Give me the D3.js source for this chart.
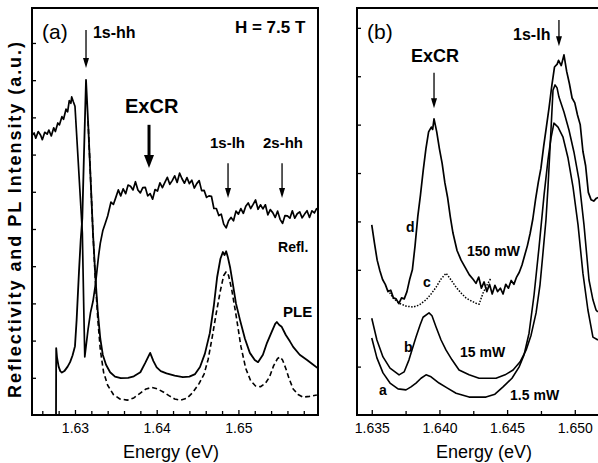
<!DOCTYPE html>
<html>
<head>
<meta charset="utf-8">
<style>
  body { margin: 0; background: #fff; }
  text { font-family: "Liberation Sans", Arial, sans-serif; fill: #000; }
</style>
<script src="https://cdn.jsdelivr.net/npm/d3@7"></script>
</head>
<body>
<script>
// ---- panel (a) data : [energy eV, intensity a.u.] ----
var reflA = [
  [1.6247,7.50],[1.6250,7.58],[1.6252,7.44],[1.6255,7.62],[1.6258,7.52],[1.6260,7.40],[1.6263,7.60],
  [1.6266,7.55],[1.6268,7.66],[1.6271,7.50],[1.6274,7.72],[1.6276,7.62],[1.6279,7.85],[1.6281,7.80],
  [1.6284,8.02],[1.6286,7.95],[1.6289,8.22],[1.6291,8.15],[1.6293,8.45],[1.6295,8.38],[1.6296,8.55],
  [1.6298,8.42],[1.6300,8.30],
  [1.6304,6.80],[1.6309,4.90],[1.6311,2.60],[1.6312,1.56],[1.6316,2.30],[1.6319,2.75],[1.6322,3.05],
  [1.6325,3.50],[1.6327,3.90],[1.6329,4.30],[1.6331,4.62],[1.6334,4.95],[1.6337,5.15],[1.6340,5.35],
  [1.6344,5.72],[1.6347,5.66],[1.6350,5.85],[1.6353,6.05],[1.6356,5.89],[1.6359,6.08],[1.6362,5.95],
  [1.6365,6.18],[1.6368,6.15],[1.6371,6.05],[1.6374,6.27],[1.6377,6.05],[1.6380,5.97],[1.6383,6.11],
  [1.6386,6.12],[1.6389,5.89],[1.6392,5.95],[1.6395,5.80],[1.6398,6.06],[1.6401,6.02],[1.6404,6.24],
  [1.6407,6.11],[1.6410,6.25],[1.6413,6.39],[1.6416,6.20],[1.6419,6.30],[1.6422,6.43],[1.6425,6.25],
  [1.6428,6.50],[1.6431,6.35],[1.6434,6.23],[1.6437,6.38],[1.6440,6.22],[1.6443,6.31],[1.6446,6.10],
  [1.6449,6.22],[1.6452,6.30],[1.6455,6.03],[1.6458,6.04],[1.6461,5.85],[1.6464,5.89],[1.6467,5.88],
  [1.6470,5.55],[1.6473,5.55],[1.6476,5.36],[1.6479,5.40],[1.6482,5.13],[1.6485,5.03],[1.6488,5.22],
  [1.6491,5.31],[1.6494,5.22],[1.6497,5.48],[1.6500,5.40],[1.6503,5.55],[1.6506,5.42],[1.6509,5.61],
  [1.6512,5.70],[1.6515,5.55],[1.6518,5.66],[1.6521,5.78],[1.6524,5.53],[1.6527,5.65],[1.6530,5.54],
  [1.6533,5.65],[1.6536,5.38],[1.6539,5.52],[1.6542,5.44],[1.6545,5.31],[1.6548,5.48],[1.6551,5.26],
  [1.6554,5.15],[1.6557,5.36],[1.6560,5.35],[1.6563,5.29],[1.6566,5.49],[1.6569,5.29],[1.6572,5.41],
  [1.6575,5.46],[1.6578,5.30],[1.6581,5.40],[1.6584,5.49],[1.6587,5.31],[1.6590,5.49],[1.6593,5.43],
  [1.6596,5.56]
];
var pleA = [
  [1.62768,0],[1.62770,1.80],[1.6278,1.55],[1.6280,1.30],[1.6282,1.18],[1.6284,1.14],[1.6287,1.18],
  [1.6291,1.30],[1.6294,1.42],[1.6297,1.60],[1.6300,1.85],[1.6302,2.55],[1.6305,3.90],[1.6307,4.70],
  [1.6309,5.30],[1.6311,7.00],[1.63135,9.01],[1.6316,7.90],[1.6319,6.40],[1.6322,4.90],[1.6325,3.70],
  [1.6328,2.75],[1.6331,2.05],[1.6334,1.62],[1.6338,1.35],[1.6343,1.15],[1.6349,1.03],[1.6356,0.99],
  [1.6365,1.00],[1.6372,1.04],[1.6380,1.15],[1.6386,1.40],[1.6392,1.67],[1.6396,1.45],[1.6400,1.28],
  [1.6405,1.18],[1.6412,1.12],[1.6422,1.06],[1.6432,1.02],[1.6440,1.03],[1.6447,1.10],[1.6453,1.29],
  [1.6459,1.65],[1.6465,2.20],[1.6470,2.95],[1.6474,3.71],[1.6478,4.20],[1.6481,4.38],[1.6483,4.30],
  [1.6485,4.40],[1.6487,4.25],[1.6490,3.95],[1.6493,3.55],[1.6497,3.00],[1.6502,2.55],[1.6508,2.05],
  [1.6514,1.67],[1.6520,1.48],[1.6524,1.42],[1.6530,1.62],[1.6535,1.94],[1.6541,2.25],[1.6545,2.45],
  [1.6547,2.50],[1.6550,2.42],[1.6553,2.37],[1.6558,2.15],[1.6563,1.98],[1.6567,1.83],[1.6575,1.62],
  [1.6584,1.48],[1.6590,1.38],[1.6597,1.26]
];
var pleFitA = [
  [1.6316,7.90],[1.6319,6.40],[1.6322,4.90],[1.6325,3.60],[1.6328,2.55],[1.6331,1.75],[1.6335,1.15],
  [1.6340,0.80],[1.6347,0.55],[1.6355,0.43],[1.6364,0.40],[1.6372,0.46],[1.6380,0.59],[1.6387,0.70],
  [1.6394,0.74],[1.6401,0.70],[1.6408,0.62],[1.6415,0.52],[1.6422,0.43],[1.6429,0.40],[1.6437,0.45],
  [1.6444,0.60],[1.6452,0.85],[1.6458,1.10],[1.6463,1.50],[1.6468,2.10],[1.6473,2.75],[1.6478,3.35],
  [1.6482,3.75],[1.6485,3.85],[1.6488,3.75],[1.6492,3.35],[1.6497,2.70],[1.6503,1.85],[1.6509,1.25],
  [1.6515,0.92],[1.6521,0.78],[1.6527,0.76],[1.6533,0.85],[1.6538,1.02],[1.6543,1.32],[1.6548,1.52],
  [1.6551,1.56],[1.6554,1.48],[1.6558,1.25],[1.6562,0.98],[1.6567,0.70],[1.6573,0.55],[1.6579,0.48],
  [1.6587,0.50],[1.6596,0.54]
];

// ---- panel (b) data : PL spectra at several powers ----
var curveD = [
  [1.6350,3.93],[1.6352,3.55],[1.6354,3.20],[1.6356,2.98],[1.6358,2.80],[1.6360,2.70],[1.6362,2.55],
  [1.6364,2.58],[1.6366,2.42],[1.6368,2.40],[1.6370,2.30],[1.6372,2.42],[1.6374,2.40],[1.6376,2.55],
  [1.6378,2.80],[1.6380,3.00],[1.6382,3.50],[1.6384,4.10],[1.6386,4.55],[1.6388,5.05],[1.6390,5.50],
  [1.6392,5.85],[1.6394,5.95],[1.6395,5.90],[1.6396,6.12],[1.6398,5.85],[1.6400,5.50],[1.6402,5.20],
  [1.6404,4.80],[1.6406,4.50],[1.6408,4.10],[1.6410,3.76],[1.6413,3.40],[1.6416,3.20],[1.6419,3.05],
  [1.6422,2.90],[1.6425,2.80],[1.6427,2.72],[1.6429,2.85],[1.6431,2.62],[1.6433,2.75],[1.6435,2.55],
  [1.6437,2.70],[1.6439,2.50],[1.6441,2.68],[1.6443,2.55],[1.6445,2.62],[1.6447,2.50],[1.6449,2.70],
  [1.6451,2.62],[1.6453,2.78],[1.6455,2.70],[1.6457,2.85],[1.6459,2.95],[1.6461,3.10],[1.6463,3.30],
  [1.6465,3.50],[1.6467,3.75],[1.6469,4.05],[1.6471,4.45],[1.6473,4.80],[1.6475,5.10],[1.6477,5.55],
  [1.6479,5.95],[1.6481,6.35],[1.6483,6.80],[1.6485,7.19],[1.6487,7.25],[1.6488,7.33],[1.6490,7.22],
  [1.6492,7.44],[1.6494,7.10],[1.6496,6.85],[1.6498,6.55],[1.6500,6.45],[1.6502,6.20],[1.6504,6.00],
  [1.6506,5.45],[1.6508,5.15],[1.6510,4.60],[1.6512,4.45],[1.6514,4.42],[1.6516,4.48],[1.6518,4.50]
];
var curveC = [
  [1.6362,2.58],[1.63657,2.42],[1.63702,2.31],[1.63753,2.25],[1.63805,2.23],[1.63849,2.27],[1.63901,2.38],
  [1.63938,2.50],[1.63975,2.64],[1.64012,2.81],[1.64049,2.93],[1.64086,2.79],[1.64123,2.64],[1.6416,2.52],
  [1.64196,2.42],[1.64233,2.36],[1.6427,2.31],[1.64293,2.29],[1.64322,2.52],[1.64352,2.69],[1.64381,2.83]
];
var curveB = [
  [1.6350,2.00],[1.63538,1.55],[1.63583,1.20],[1.63635,0.97],[1.63702,0.83],[1.63739,0.89],[1.63775,1.14],
  [1.63827,1.61],[1.63857,1.86],[1.63879,2.02],[1.63923,2.11],[1.63945,2.05],[1.63975,1.82],[1.64012,1.55],
  [1.64049,1.34],[1.64093,1.14],[1.64145,0.93],[1.64219,0.83],[1.64293,0.76],[1.64418,0.76],[1.64485,0.83],
  [1.64544,0.93],[1.64596,1.10],[1.6464,1.34],[1.64677,1.65],[1.64714,2.11],[1.64743,2.69],[1.64765,3.35],
  [1.64787,4.03],[1.64802,4.71],[1.64824,5.89],[1.64839,6.71],[1.64854,6.82],[1.64869,6.76],[1.64883,6.57],
  [1.6492,6.26],[1.64957,5.89],[1.64994,5.43],[1.65031,4.86],[1.65068,3.93],[1.65105,2.79],[1.65134,2.38],
  [1.65157,2.17],[1.6517,2.13]
];
var curveA = [
  [1.6350,1.59],[1.63538,1.18],[1.63583,0.87],[1.63635,0.66],[1.63694,0.54],[1.63753,0.52],[1.6379,0.58],
  [1.63827,0.66],[1.63864,0.76],[1.63901,0.83],[1.63938,0.79],[1.63997,0.66],[1.64056,0.56],[1.64123,0.45],
  [1.64219,0.37],[1.64344,0.37],[1.6441,0.43],[1.6447,0.58],[1.64536,0.76],[1.64588,0.99],[1.64625,1.24],
  [1.64662,1.69],[1.64699,2.48],[1.64736,3.47],[1.64773,4.55],[1.64802,5.27],[1.64824,5.72],[1.64846,6.03],
  [1.64876,5.95],[1.64913,5.74],[1.6495,5.31],[1.64987,4.71],[1.65024,3.93],[1.6506,2.93],[1.65097,2.17],
  [1.65134,1.61],[1.65171,1.55]
];

// ---- ticks ----
var ticksAmajor = [1.63, 1.64, 1.65];
var ticksAminor = [1.626,1.628,1.632,1.634,1.636,1.638,1.642,1.644,1.646,1.648,1.652,1.654,1.656,1.658];
var ticksAy = [1,2,3,4,5,6,7,8,9,10];
var ticksB = [1.635, 1.640, 1.645, 1.650];
var ticksBminor = [1.6375, 1.6425, 1.6475, 1.6525];
var ticksBy = [1,2,3,4,5,6,7,8];

var w = 598, h = 463;
var svg = d3.select("body").append("svg").attr("width", w).attr("height", h);

var xa = d3.scaleLinear().domain([1.62474, 1.65974]).range([32, 318]);
var ya = d3.scaleLinear().domain([0, 10.94]).range([415, 8]);
var xb = d3.scaleLinear().domain([1.63391, 1.65334]).range([357, 620]);
var yb = d3.scaleLinear().domain([0, 8.41]).range([415, 8]);

function drawAxes(x, y, major, minor, yt, fmt) {
  var gx = svg.append("g").attr("transform", "translate(0,415)")
    .call(d3.axisBottom(x).tickValues(major).tickSizeInner(-5).tickSizeOuter(0)
      .tickPadding(8).tickFormat(fmt));
  gx.select(".domain").remove();
  gx.selectAll("text").attr("font-size", 14).attr("font-family", "Liberation Sans, Arial");
  var gm = svg.append("g").attr("transform", "translate(0,415)")
    .call(d3.axisBottom(x).tickValues(minor).tickSizeInner(-4).tickSizeOuter(0).tickFormat(""));
  gm.select(".domain").remove();
  var gy = svg.append("g").attr("transform", "translate(" + x.range()[0] + ",0)")
    .call(d3.axisLeft(y).tickValues(yt).tickSizeInner(-4).tickSizeOuter(0).tickFormat(""));
  gy.select(".domain").remove();
  svg.selectAll(".tick line").attr("stroke-width", 1.3);
}
drawAxes(xa, ya, ticksAmajor, ticksAminor, ticksAy, d3.format(".2f"));
drawAxes(xb, yb, ticksB, ticksBminor, ticksBy, d3.format(".3f"));

// frames
svg.append("rect").attr("x", xa.range()[0]).attr("y", ya.range()[1])
  .attr("width", xa.range()[1] - xa.range()[0]).attr("height", ya.range()[0] - ya.range()[1])
  .attr("fill", "none").attr("stroke", "#000").attr("stroke-width", 2);
svg.append("rect").attr("x", xb.range()[0]).attr("y", yb.range()[1])
  .attr("width", xb.range()[1] - xb.range()[0]).attr("height", yb.range()[0] - yb.range()[1])
  .attr("fill", "none").attr("stroke", "#000").attr("stroke-width", 2);

function curve(data, x, y, dash, sw) {
  var line = d3.line().x(function (d) { return x(d[0]); }).y(function (d) { return y(d[1]); });
  svg.append("path").datum(data).attr("d", line)
    .attr("fill", "none").attr("stroke", "#000")
    .attr("stroke-width", sw || 1.6)
    .attr("stroke-linejoin", "round")
    .attr("stroke-dasharray", dash || null);
}
curve(reflA, xa, ya, null, 1.7);
curve(pleA, xa, ya, null, 1.8);
curve(pleFitA, xa, ya, "5,3", 1.6);
curve(curveD, xb, yb, null, 1.7);
curve(curveC, xb, yb, "1.5,1.5", 1.5);
curve(curveB, xb, yb, null, 1.6);
curve(curveA, xb, yb, null, 1.6);

// arrows pointing down at a feature
function arrow(x, y, e, v0, v1, sw, hw, hl) {
  var px = x(e), p0 = y(v0), p1 = y(v1);
  svg.append("line").attr("x1", px).attr("x2", px).attr("y1", p0).attr("y2", p1 - hl + 1)
    .attr("stroke", "#000").attr("stroke-width", sw);
  svg.append("path").attr("d", "M" + (px - hw) + "," + (p1 - hl) + "L" + (px + hw) + "," + (p1 - hl) +
    "L" + px + "," + p1 + "Z").attr("fill", "#000");
}
arrow(xa, ya, 1.63135, 10.35, 9.33, 1.3, 3, 10);
arrow(xa, ya, 1.63906, 7.80, 6.64, 3, 5, 13);
arrow(xa, ya, 1.64873, 6.77, 5.83, 1.3, 3, 10);
arrow(xa, ya, 1.65534, 6.77, 5.83, 1.3, 3, 10);
arrow(xb, yb, 1.6396, 7.07, 6.34, 1.3, 3, 10);
arrow(xb, yb, 1.64883, 8.16, 7.62, 1.3, 3, 10);

function label(x, y, e, v, txt, size, bold) {
  svg.append("text").attr("x", x(e)).attr("y", y(v)).text(txt)
    .attr("font-size", size).attr("font-weight", bold ? "bold" : "normal");
}
label(xa, ya, 1.62596, 10.11, "(a)", 21, false);
label(xa, ya, 1.63220, 10.13, "1s-hh", 16, true);
label(xa, ya, 1.64958, 10.27, "H = 7.5 T", 17, true);
label(xa, ya, 1.63612, 8.12, "ExCR", 20, true);
label(xa, ya, 1.64652, 7.18, "1s-lh", 15, true);
label(xa, ya, 1.65301, 7.18, "2s-hh", 15, true);
label(xa, ya, 1.65485, 4.38, "Refl.", 14, true);
label(xa, ya, 1.65546, 2.63, "PLE", 15, true);

label(xb, yb, 1.63465, 7.77, "(b)", 21, false);
label(xb, yb, 1.6379, 7.29, "ExCR", 18, true);
label(xb, yb, 1.64544, 7.75, "1s-lh", 16, true);
label(xb, yb, 1.63753, 3.78, "d", 14, true);
label(xb, yb, 1.63879, 2.64, "c", 14, true);
label(xb, yb, 1.63739, 1.30, "b", 14, true);
label(xb, yb, 1.63554, 0.41, "a", 14, true);
label(xb, yb, 1.64204, 3.29, "150 mW", 14, true);
label(xb, yb, 1.64152, 1.20, "15 mW", 14, true);
label(xb, yb, 1.64522, 0.31, "1.5 mW", 14, true);

// axis titles
svg.append("text").attr("x", 171).attr("y", 458).attr("text-anchor", "middle")
  .attr("font-size", 18).text("Energy (eV)");
svg.append("text").attr("x", 484).attr("y", 458).attr("text-anchor", "middle")
  .attr("font-size", 18).text("Energy (eV)");
svg.append("text").attr("transform", "translate(21,220) rotate(-90)")
  .attr("text-anchor", "middle").attr("font-size", 18).attr("font-weight", "bold")
  .attr("textLength", 356).attr("lengthAdjust", "spacing")
  .text("Reflectivity and PL Intensity (a.u.)");
</script>
</body>
</html>
